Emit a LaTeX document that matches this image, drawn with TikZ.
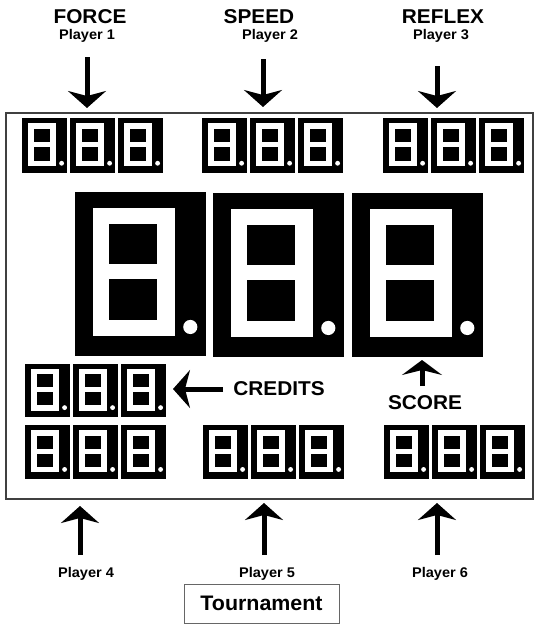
\documentclass[tikz,border=0pt]{standalone}
\usepackage{fontspec}
\setmainfont{Liberation Sans}
\usepackage{graphicx}
\usetikzlibrary{arrows.meta}

\newcommand{\segdigit}[4]{% x y w h
  \fill[black] (#1,#2) rectangle ++(#3,#4);
  \fill[white] ({#1+0.135*#3},{#2+0.098*#4}) rectangle ({#1+0.76*#3},{#2+0.878*#4});
  \fill[black] ({#1+0.26*#3},{#2+0.195*#4}) rectangle ({#1+0.625*#3},{#2+0.44*#4});
  \fill[black] ({#1+0.26*#3},{#2+0.53*#4}) rectangle ({#1+0.625*#3},{#2+0.78*#4});
  \fill[white] ({#1+0.88*#3},{#2+0.823*#4}) circle[radius={0.054*#3}];
}
\newcommand{\seggroup}[3]{% x y h
  \segdigit{#1}{#2}{45}{#3}
  \segdigit{#1+48}{#2}{45}{#3}
  \segdigit{#1+96}{#2}{45}{#3}
}

\begin{document}
\begin{tikzpicture}[x=1pt,y=-1pt,
  biglab/.style={font=\bfseries\fontsize{20}{22}\selectfont, anchor=base, inner sep=0pt},
  plab/.style={font=\bfseries\fontsize{14}{16}\selectfont, anchor=base, inner sep=0pt},
  parrow/.style={line width=5pt, -{Stealth[length=17pt,width=38pt,inset=5pt]}},
  framec/.style={draw=black!75, line width=1.5pt}]
\useasboundingbox[fill=white] (0,0) rectangle (540,624);

% frame
\draw[framec] (6,113) rectangle (533,499);

% small displays
\seggroup{22}{118}{55}
\seggroup{202}{118}{55}
\seggroup{383}{118}{55}
\seggroup{25}{364}{53}
\seggroup{25}{425}{54}
\seggroup{203}{425}{54}
\seggroup{384}{425}{54}

% big digits
\segdigit{75}{192}{131}{164}
\segdigit{213}{193}{131}{164}
\segdigit{352}{193}{131}{164}

% top labels
\node[biglab] (force) at (90,23) {\scalebox{1.04}[1]{FORCE}};
\node[biglab] (speed) at (259,23) {\scalebox{1.04}[1]{SPEED}};
\node[biglab] (reflex) at (443,23) {\scalebox{1.04}[1]{REFLEX}};
\node[plab] (p1) at (87,39) {\scalebox{1.04}[1]{Player 1}};
\node[plab] (p2) at (270,39) {\scalebox{1.04}[1]{Player 2}};
\node[plab] (p3) at (441,39) {\scalebox{1.04}[1]{Player 3}};

\coordinate (a1s) at (87,57);  \coordinate (a1e) at (87,108);
\coordinate (a2s) at (263,59); \coordinate (a2e) at (263,107);
\coordinate (a3s) at (437,66); \coordinate (a3e) at (437,108);
\draw[parrow] (a1s) -- (a1e);
\draw[parrow] (a2s) -- (a2e);
\draw[parrow] (a3s) -- (a3e);

% credits and score
\node[biglab] (credits) at (279,395) {\scalebox{1.04}[1]{CREDITS}};
\coordinate (cs) at (223,389); \coordinate (ce) at (173,389);
\draw[parrow] (cs) -- (ce);
\node[biglab] (score) at (425,409) {\scalebox{1.04}[1]{SCORE}};
\coordinate (ss) at (422,386); \coordinate (se) at (422,360);
\draw[line width=5pt, -{Stealth[length=15pt,width=40pt,inset=5pt]}] (ss) -- (se);

% bottom
\coordinate (b4s) at (80,555);  \coordinate (b4e) at (80,506);
\coordinate (b5s) at (264,555); \coordinate (b5e) at (264,503);
\coordinate (b6s) at (437,555); \coordinate (b6e) at (437,503);
\draw[parrow] (b4s) -- (b4e);
\draw[parrow] (b5s) -- (b5e);
\draw[parrow] (b6s) -- (b6e);
\node[plab] (p4) at (86,577) {\scalebox{1.04}[1]{Player 4}};
\node[plab] (p5) at (267,577) {\scalebox{1.04}[1]{Player 5}};
\node[plab] (p6) at (440,577) {\scalebox{1.04}[1]{Player 6}};

\node[draw=black!60, line width=1pt, minimum width=155pt, minimum height=39pt, inner sep=0pt,
  font=\bfseries\fontsize{21}{23}\selectfont] (tour) at (261.5,603.5) {\scalebox{1.02}[1]{Tournament}};
\end{tikzpicture}
\end{document}
